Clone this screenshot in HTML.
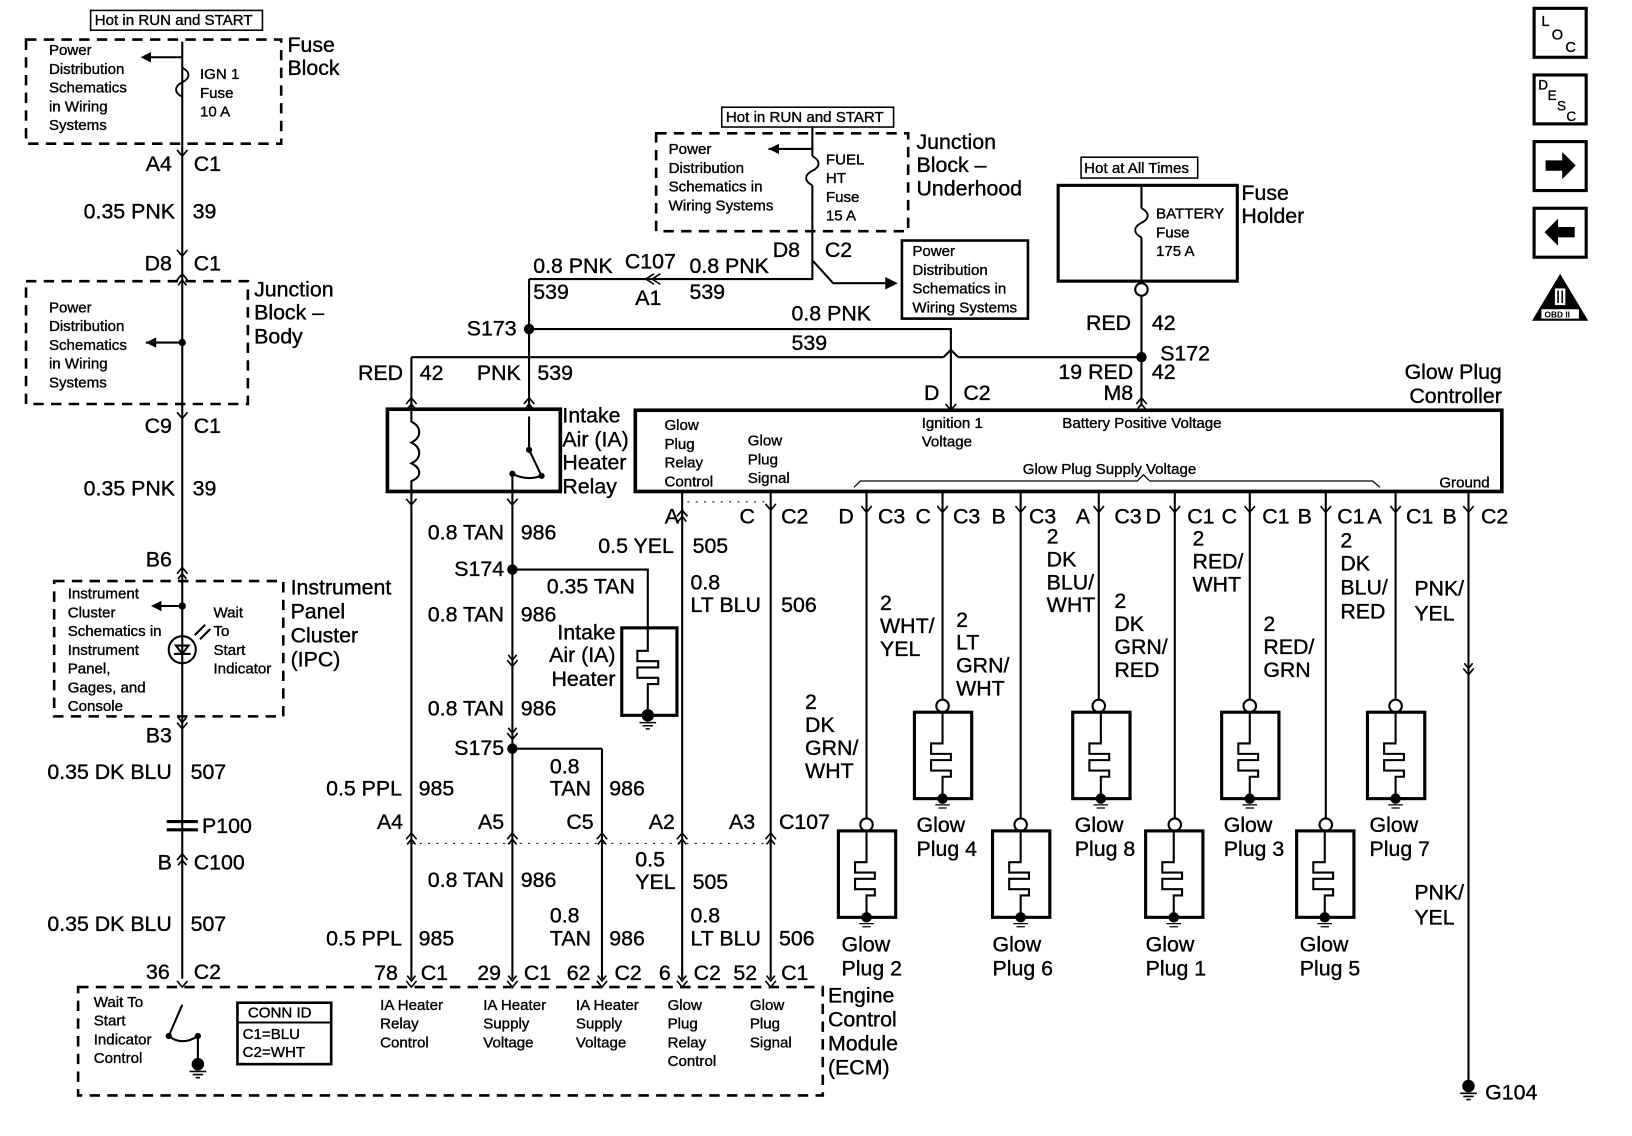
<!DOCTYPE html>
<html><head><meta charset="utf-8"><style>
html,body{margin:0;padding:0;background:#fff;width:1632px;height:1136px;overflow:hidden}
svg{display:block}
text{font-family:"Liberation Sans",sans-serif;fill:#000;stroke:#000;stroke-width:0.35}
.b{font-size:20.5px}
.s{font-size:14.5px}
.r{text-anchor:end}
</style></head><body>
<svg width="1632" height="1136" viewBox="0 0 1567 1091" preserveAspectRatio="none" xmlns="http://www.w3.org/2000/svg">
<defs>
<g id="kd"><path d="M-5,-6 L0,0 L5,-6" fill="none" stroke="#000" stroke-width="1.6"/></g>
<g id="ku"><path d="M-5,6 L0,0 L5,6" fill="none" stroke="#000" stroke-width="1.6"/><path d="M-4,11 L0,6 L4,11" fill="none" stroke="#000" stroke-width="1.6"/></g>
<g id="kv"><path d="M-4,-11 L0,-6 L4,-11" fill="none" stroke="#000" stroke-width="1.6"/><path d="M-5,-6 L0,0 L5,-6" fill="none" stroke="#000" stroke-width="1.6"/></g>
<g id="plug">
<rect x="0" y="0" width="55" height="83" fill="none" stroke="#000" stroke-width="3"/>
<path d="M27,0 V30 H16 V40 H35 V46 H16 V56 H35 V62 H27 V83" fill="none" stroke="#000" stroke-width="2"/>
<circle cx="27" cy="83" r="5"/>
<path d="M20,89 H34 M23,92 H31" stroke="#000" stroke-width="1.2"/>
</g>
<g id="gnd"><circle cx="0" cy="0" r="6"/><path d="M-8,7 H8 M-5,10 H5 M-2,13 H2" stroke="#000" stroke-width="1.5"/></g>
<g id="fuse"><path d="M0,0 C8,4 8,10 0,14 C-8,18 -8,24 0,28" fill="none" stroke="#000" stroke-width="1.8"/></g>
</defs>

<g stroke="#000" stroke-width="2" fill="none">
<path d="M175,40 V940"/>
<path d="M25,38 H270 V138 H25 Z" stroke-dasharray="10,7" stroke-width="2.5"/>
<path d="M25,270 H238 V388 H25 Z" stroke-dasharray="10,7" stroke-width="2.5"/>
<path d="M52,558 H272 V688 H52 Z" stroke-dasharray="10,7" stroke-width="2.5"/>
<path d="M75,948 H790 V1052 H75 Z" stroke-dasharray="10,7" stroke-width="2.5"/>
<rect x="87" y="10" width="165" height="19" stroke-width="1.5"/>
<path d="M175,55 H140 M175,329 H140 M175,582 H150"/>
<circle cx="175" cy="624" r="13"/>
<path d="M167,628 H183 M169,620 L175,628 L181,620 Z"/>
<path d="M187,610 L197,600 M192,614 L202,604"/>
<path d="M160,789 H190 M160,797 H190" stroke-width="3"/>
<path d="M175,965 L162,995 M162,995 Q175,1005 190,995 M190,995 V1022" />
<rect x="228" y="963" width="90" height="59" stroke-width="2.5"/>
<path d="M228,982 H318"/>

<path d="M395,343 V393 M508,268 V393"/>
<path d="M395,472 V940 M492,472 V940 M578,719 V940 M655,472 V940 M740,472 V940"/>
<path d="M492,547 H622 V603 M492,719 H578"/>
<path d="M508,268 H780 V215 M508,316 H913 V394"/>
<path d="M395,343 H906 M920,343 H1096"/>
<path d="M906,343 L913,336 L920,343"/>
<path d="M780,250 L800,272 H850"/>
<rect x="866" y="231" width="121" height="75" stroke-width="2.5"/>
<path d="M395,810 H740" stroke-dasharray="2,6" stroke-width="1"/>
<path d="M660,482 H735" stroke-dasharray="2,6" stroke-width="1"/>
<rect x="372" y="393" width="166" height="79" stroke-width="3.5"/>
<path d="M395,393 V405 C405,410 405,420 395,425 C405,430 405,440 395,445 C405,450 405,458 395,462 V472" />
<path d="M508,400 V432 L520,457 M492,472 V455 M492,455 Q505,462 520,457" />
<path d="M630,128 H872 V222 H630 Z" stroke-dasharray="10,7" stroke-width="2.5"/>
<rect x="693" y="103" width="165" height="19" stroke-width="1.5"/>
<path d="M780,122 V150 M780,143 H738 M780,178 V215"/>
<rect x="1038" y="151" width="112" height="20" stroke-width="1.5"/>
<rect x="1016" y="178" width="172" height="92" stroke-width="3"/>
<path d="M1096,178 V200 M1096,228 V272 M1096,284 V390"/>
<circle cx="1096" cy="278" r="6" fill="#fff"/>
<rect x="610" y="394" width="832" height="78" stroke-width="3.5"/>
<path d="M820,468 L826,462 H1092 L1098,456 L1104,462 H1318 L1325,468" stroke-width="1.2"/>
<rect x="597" y="603" width="53" height="84" stroke-width="3"/>
<path d="M622,603 V625 H612 V635 H632 V641 H612 V651 H632 V657 H622 V687"/>
<path d="M832,472 V786 M905,472 V672 M980,472 V786 M1055,472 V672 M1128,472 V786 M1200,472 V672 M1273,472 V786 M1340,472 V672 M1410,472 V1043"/>
<g fill="#fff">
<circle cx="832" cy="792" r="6"/><circle cx="905" cy="678" r="6"/><circle cx="980" cy="792" r="6"/><circle cx="1055" cy="678" r="6"/>
<circle cx="1128" cy="792" r="6"/><circle cx="1200" cy="678" r="6"/><circle cx="1273" cy="792" r="6"/><circle cx="1340" cy="678" r="6"/>
</g>
<rect x="1473" y="8" width="50" height="47" stroke-width="3"/>
<rect x="1473" y="72" width="50" height="47" stroke-width="3"/>
<rect x="1473" y="136" width="50" height="47" stroke-width="3"/>
<rect x="1473" y="200" width="50" height="47" stroke-width="3"/>
</g>
<use href="#fuse" x="175" y="65"/>
<use href="#fuse" x="780" y="150"/>
<use href="#fuse" x="1096" y="200"/>
<path d="M135,55 L145,50 V60 Z M738,143 L748,138 V148 Z M140,329 L150,324 V334 Z M145,582 L155,577 V587 Z M862,272 L850,266 V278 Z"/>
<circle cx="175" cy="329" r="3.5"/><circle cx="175" cy="582" r="3.5"/>
<circle cx="508" cy="316" r="5"/><circle cx="1096" cy="343" r="5"/><circle cx="492" cy="547" r="5"/><circle cx="492" cy="719" r="5"/>
<circle cx="508" cy="432" r="3"/><circle cx="520" cy="457" r="3"/><circle cx="492" cy="455" r="3"/>
<circle cx="162" cy="995" r="3"/><circle cx="190" cy="995" r="3"/>
<use href="#gnd" x="190" y="1022"/>
<use href="#gnd" x="622" y="687"/>
<use href="#gnd" x="1410" y="1043"/>
<use href="#plug" x="805" y="798"/><use href="#plug" x="878" y="684"/><use href="#plug" x="953" y="798"/><use href="#plug" x="1030" y="684"/>
<use href="#plug" x="1100" y="798"/><use href="#plug" x="1173" y="684"/><use href="#plug" x="1245" y="798"/><use href="#plug" x="1313" y="684"/>
<use href="#kd" x="175" y="150"/><use href="#kd" x="175" y="246"/><use href="#ku" x="175" y="263"/><use href="#kd" x="175" y="402"/>
<use href="#ku" x="175" y="545"/><use href="#kv" x="175" y="700"/><use href="#ku" x="175" y="820"/><use href="#kd" x="175" y="948"/>
<use href="#ku" x="395" y="382"/><use href="#ku" x="508" y="382"/><use href="#kd" x="395" y="485"/><use href="#kd" x="492" y="485"/>
<use href="#kd" x="913" y="394"/><use href="#ku" x="1096" y="382"/>
<use href="#ku" x="395" y="800"/><use href="#ku" x="492" y="800"/><use href="#ku" x="578" y="800"/><use href="#ku" x="655" y="800"/><use href="#ku" x="740" y="800"/>
<use href="#ku" x="655" y="490"/><use href="#kd" x="740" y="490"/>
<use href="#kv" x="395" y="948"/><use href="#kv" x="492" y="948"/><use href="#kv" x="578" y="948"/><use href="#kv" x="655" y="948"/><use href="#kv" x="740" y="948"/>
<use href="#kv" x="492" y="640"/><use href="#kv" x="492" y="710"/><use href="#kv" x="1410" y="648"/>
<g><use href="#kd" x="832" y="492"/><use href="#kd" x="905" y="492"/><use href="#kd" x="980" y="492"/><use href="#kd" x="1055" y="492"/><use href="#kd" x="1128" y="492"/><use href="#kd" x="1200" y="492"/><use href="#kd" x="1273" y="492"/><use href="#kd" x="1340" y="492"/><use href="#kd" x="1410" y="492"/></g>
<path d="M628,263 L620,268 L628,273 M634,263 L626,268 L634,273" fill="none" stroke="#000" stroke-width="1.5"/>

<text x="91" y="24" class="s">Hot in RUN and START</text>
<text class="s"><tspan x="47" y="53">Power</tspan><tspan x="47" y="71">Distribution</tspan><tspan x="47" y="89">Schematics</tspan><tspan x="47" y="107">in Wiring</tspan><tspan x="47" y="125">Systems</tspan></text>
<text class="s"><tspan x="192" y="76">IGN 1</tspan><tspan x="192" y="94">Fuse</tspan><tspan x="192" y="112">10 A</tspan></text>
<text class="b"><tspan x="276" y="50">Fuse</tspan><tspan x="276" y="72">Block</tspan></text>
<text class="b r" x="165" y="164">A4</text><text class="b" x="186" y="164">C1</text>
<text class="b r" x="168" y="210">0.35 PNK</text><text class="b" x="185" y="210">39</text>
<text class="b r" x="165" y="260">D8</text><text class="b" x="186" y="260">C1</text>
<text class="s"><tspan x="47" y="300">Power</tspan><tspan x="47" y="318">Distribution</tspan><tspan x="47" y="336">Schematics</tspan><tspan x="47" y="354">in Wiring</tspan><tspan x="47" y="372">Systems</tspan></text>
<text class="b"><tspan x="244" y="285">Junction</tspan><tspan x="244" y="307">Block –</tspan><tspan x="244" y="330">Body</tspan></text>
<text class="b r" x="165" y="416">C9</text><text class="b" x="186" y="416">C1</text>
<text class="b r" x="168" y="476">0.35 PNK</text><text class="b" x="185" y="476">39</text>
<text class="b r" x="165" y="544">B6</text>
<text class="s"><tspan x="65" y="575">Instrument</tspan><tspan x="65" y="593">Cluster</tspan><tspan x="65" y="611">Schematics in</tspan><tspan x="65" y="629">Instrument</tspan><tspan x="65" y="647">Panel,</tspan><tspan x="65" y="665">Gages, and</tspan><tspan x="65" y="683">Console</tspan></text>
<text class="s"><tspan x="205" y="593">Wait</tspan><tspan x="205" y="611">To</tspan><tspan x="205" y="629">Start</tspan><tspan x="205" y="647">Indicator</tspan></text>
<text class="b"><tspan x="279" y="571">Instrument</tspan><tspan x="279" y="594">Panel</tspan><tspan x="279" y="617">Cluster</tspan><tspan x="279" y="640">(IPC)</tspan></text>
<text class="b r" x="165" y="713">B3</text>
<text class="b r" x="165" y="748">0.35 DK BLU</text><text class="b" x="183" y="748">507</text>
<text class="b" x="194" y="800">P100</text>
<text class="b r" x="165" y="835">B</text><text class="b" x="186" y="835">C100</text>
<text class="b r" x="165" y="894">0.35 DK BLU</text><text class="b" x="183" y="894">507</text>
<text class="b r" x="163" y="940">36</text><text class="b" x="186" y="940">C2</text>
<text class="s"><tspan x="90" y="967">Wait To</tspan><tspan x="90" y="985">Start</tspan><tspan x="90" y="1003">Indicator</tspan><tspan x="90" y="1021">Control</tspan></text>
<text class="s" x="238" y="977">CONN ID</text>
<text class="s"><tspan x="233" y="998">C1=BLU</tspan><tspan x="233" y="1015">C2=WHT</tspan></text>
<text class="b"><tspan x="795" y="963">Engine</tspan><tspan x="795" y="986">Control</tspan><tspan x="795" y="1009">Module</tspan><tspan x="795" y="1032">(ECM)</tspan></text>
<text class="b r" x="382" y="941">78</text><text class="b" x="404" y="941">C1</text>
<text class="b r" x="481" y="941">29</text><text class="b" x="503" y="941">C1</text>
<text class="b r" x="567" y="941">62</text><text class="b" x="590" y="941">C2</text>
<text class="b r" x="644" y="941">6</text><text class="b" x="666" y="941">C2</text>
<text class="b r" x="727" y="941">52</text><text class="b" x="750" y="941">C1</text>
<text class="s"><tspan x="365" y="970">IA Heater</tspan><tspan x="365" y="988">Relay</tspan><tspan x="365" y="1006">Control</tspan></text>
<text class="s"><tspan x="464" y="970">IA Heater</tspan><tspan x="464" y="988">Supply</tspan><tspan x="464" y="1006">Voltage</tspan></text>
<text class="s"><tspan x="553" y="970">IA Heater</tspan><tspan x="553" y="988">Supply</tspan><tspan x="553" y="1006">Voltage</tspan></text>
<text class="s"><tspan x="641" y="970">Glow</tspan><tspan x="641" y="988">Plug</tspan><tspan x="641" y="1006">Relay</tspan><tspan x="641" y="1024">Control</tspan></text>
<text class="s"><tspan x="720" y="970">Glow</tspan><tspan x="720" y="988">Plug</tspan><tspan x="720" y="1006">Signal</tspan></text>

<text class="b" x="512" y="262">0.8 PNK</text><text class="b" x="512" y="287">539</text>
<text class="b" x="600" y="258">C107</text><text class="b" x="610" y="293">A1</text>
<text class="b" x="662" y="262">0.8 PNK</text><text class="b" x="662" y="287">539</text>
<text class="b" x="742" y="247">D8</text><text class="b" x="792" y="247">C2</text>
<text class="b r" x="496" y="322">S173</text>
<text class="b" x="760" y="308">0.8 PNK</text><text class="b" x="760" y="336">539</text>
<text class="b r" x="387" y="365">RED</text><text class="b" x="403" y="365">42</text>
<text class="b r" x="500" y="365">PNK</text><text class="b" x="516" y="365">539</text>
<text class="b"><tspan x="540" y="406">Intake</tspan><tspan x="540" y="429">Air (IA)</tspan><tspan x="540" y="451">Heater</tspan><tspan x="540" y="474">Relay</tspan></text>
<text class="s" x="697" y="117">Hot in RUN and START</text>
<text class="s"><tspan x="642" y="148">Power</tspan><tspan x="642" y="166">Distribution</tspan><tspan x="642" y="184">Schematics in</tspan><tspan x="642" y="202">Wiring Systems</tspan></text>
<text class="s"><tspan x="793" y="158">FUEL</tspan><tspan x="793" y="176">HT</tspan><tspan x="793" y="194">Fuse</tspan><tspan x="793" y="212">15 A</tspan></text>
<text class="b"><tspan x="880" y="143">Junction</tspan><tspan x="880" y="165">Block –</tspan><tspan x="880" y="188">Underhood</tspan></text>
<text class="s"><tspan x="876" y="246">Power</tspan><tspan x="876" y="264">Distribution</tspan><tspan x="876" y="282">Schematics in</tspan><tspan x="876" y="300">Wiring Systems</tspan></text>
<text class="s" x="1041" y="166">Hot at All Times</text>
<text class="s"><tspan x="1110" y="210">BATTERY</tspan><tspan x="1110" y="228">Fuse</tspan><tspan x="1110" y="246">175 A</tspan></text>
<text class="b"><tspan x="1192" y="192">Fuse</tspan><tspan x="1192" y="214">Holder</tspan></text>
<text class="b r" x="1086" y="317">RED</text><text class="b" x="1106" y="317">42</text>
<text class="b" x="1114" y="346">S172</text>
<text class="b r" x="1088" y="364">19 RED</text><text class="b" x="1106" y="364">42</text>
<text class="b r" x="1088" y="384">M8</text>
<text class="b r" x="902" y="384">D</text><text class="b" x="925" y="384">C2</text>
<text class="b r"><tspan x="1442" y="364">Glow Plug</tspan><tspan x="1442" y="387">Controller</tspan></text>
<text class="s"><tspan x="638" y="413">Glow</tspan><tspan x="638" y="431">Plug</tspan><tspan x="638" y="449">Relay</tspan><tspan x="638" y="467">Control</tspan></text>
<text class="s"><tspan x="718" y="428">Glow</tspan><tspan x="718" y="446">Plug</tspan><tspan x="718" y="464">Signal</tspan></text>
<text class="s"><tspan x="885" y="411">Ignition 1</tspan><tspan x="885" y="429">Voltage</tspan></text>
<text class="s" x="1020" y="411">Battery Positive Voltage</text>
<text class="s" x="982" y="455">Glow Plug Supply Voltage</text>
<text class="s" x="1382" y="468">Ground</text>
<text class="b r" x="652" y="503">A</text><text class="b" x="710" y="503">C</text><text class="b" x="750" y="503">C2</text>
<text class="b r" x="484" y="518">0.8 TAN</text><text class="b" x="500" y="518">986</text>
<text class="b r" x="647" y="531">0.5 YEL</text><text class="b" x="665" y="531">505</text>
<text class="b r" x="484" y="553">S174</text>
<text class="b" x="525" y="570">0.35 TAN</text>
<text class="b"><tspan x="663" y="566">0.8</tspan><tspan x="663" y="588">LT BLU</tspan></text><text class="b" x="750" y="588">506</text>
<text class="b r" x="484" y="597">0.8 TAN</text><text class="b" x="500" y="597">986</text>
<text class="b r"><tspan x="591" y="614">Intake</tspan><tspan x="591" y="636">Air (IA)</tspan><tspan x="591" y="659">Heater</tspan></text>
<text class="b r" x="484" y="687">0.8 TAN</text><text class="b" x="500" y="687">986</text>
<text class="b r" x="484" y="725">S175</text>
<text class="b"><tspan x="528" y="743">0.8</tspan><tspan x="528" y="764">TAN</tspan></text><text class="b" x="585" y="764">986</text>
<text class="b r" x="386" y="764">0.5 PPL</text><text class="b" x="402" y="764">985</text>
<text class="b r" x="387" y="796">A4</text><text class="b r" x="484" y="796">A5</text><text class="b r" x="570" y="796">C5</text><text class="b r" x="648" y="796">A2</text><text class="b r" x="725" y="796">A3</text><text class="b" x="748" y="796">C107</text>
<text class="b r" x="484" y="852">0.8 TAN</text><text class="b" x="500" y="852">986</text>
<text class="b"><tspan x="610" y="832">0.5</tspan><tspan x="610" y="854">YEL</tspan></text><text class="b" x="665" y="854">505</text>
<text class="b"><tspan x="528" y="886">0.8</tspan><tspan x="528" y="908">TAN</tspan></text><text class="b" x="585" y="908">986</text>
<text class="b r" x="386" y="908">0.5 PPL</text><text class="b" x="402" y="908">985</text>
<text class="b"><tspan x="663" y="886">0.8</tspan><tspan x="663" y="908">LT BLU</tspan></text><text class="b" x="748" y="908">506</text>
<text class="b" y="503"><tspan x="805">D</tspan><tspan x="843">C3</tspan><tspan x="879">C</tspan><tspan x="915">C3</tspan><tspan x="952">B</tspan><tspan x="988">C3</tspan><tspan x="1033">A</tspan><tspan x="1070">C3</tspan><tspan x="1100">D</tspan><tspan x="1140">C1</tspan><tspan x="1173">C</tspan><tspan x="1212">C1</tspan><tspan x="1246">B</tspan><tspan x="1284">C1</tspan><tspan x="1313">A</tspan><tspan x="1350">C1</tspan><tspan x="1385">B</tspan><tspan x="1422">C2</tspan></text>
<text class="b"><tspan x="773" y="681">2</tspan><tspan x="773" y="703">DK</tspan><tspan x="773" y="725">GRN/</tspan><tspan x="773" y="747">WHT</tspan></text>
<text class="b"><tspan x="845" y="586">2</tspan><tspan x="845" y="608">WHT/</tspan><tspan x="845" y="630">YEL</tspan></text>
<text class="b"><tspan x="918" y="602">2</tspan><tspan x="918" y="624">LT</tspan><tspan x="918" y="646">GRN/</tspan><tspan x="918" y="668">WHT</tspan></text>
<text class="b"><tspan x="1005" y="522">2</tspan><tspan x="1005" y="544">DK</tspan><tspan x="1005" y="566">BLU/</tspan><tspan x="1005" y="588">WHT</tspan></text>
<text class="b"><tspan x="1070" y="584">2</tspan><tspan x="1070" y="606">DK</tspan><tspan x="1070" y="628">GRN/</tspan><tspan x="1070" y="650">RED</tspan></text>
<text class="b"><tspan x="1145" y="524">2</tspan><tspan x="1145" y="546">RED/</tspan><tspan x="1145" y="568">WHT</tspan></text>
<text class="b"><tspan x="1213" y="606">2</tspan><tspan x="1213" y="628">RED/</tspan><tspan x="1213" y="650">GRN</tspan></text>
<text class="b"><tspan x="1287" y="526">2</tspan><tspan x="1287" y="548">DK</tspan><tspan x="1287" y="571">BLU/</tspan><tspan x="1287" y="594">RED</tspan></text>
<text class="b"><tspan x="1358" y="572">PNK/</tspan><tspan x="1358" y="596">YEL</tspan></text>
<text class="b"><tspan x="1358" y="864">PNK/</tspan><tspan x="1358" y="888">YEL</tspan></text>
<text class="b"><tspan x="808" y="914">Glow</tspan><tspan x="808" y="937">Plug 2</tspan></text>
<text class="b"><tspan x="880" y="799">Glow</tspan><tspan x="880" y="822">Plug 4</tspan></text>
<text class="b"><tspan x="953" y="914">Glow</tspan><tspan x="953" y="937">Plug 6</tspan></text>
<text class="b"><tspan x="1032" y="799">Glow</tspan><tspan x="1032" y="822">Plug 8</tspan></text>
<text class="b"><tspan x="1100" y="914">Glow</tspan><tspan x="1100" y="937">Plug 1</tspan></text>
<text class="b"><tspan x="1175" y="799">Glow</tspan><tspan x="1175" y="822">Plug 3</tspan></text>
<text class="b"><tspan x="1248" y="914">Glow</tspan><tspan x="1248" y="937">Plug 5</tspan></text>
<text class="b"><tspan x="1315" y="799">Glow</tspan><tspan x="1315" y="822">Plug 7</tspan></text>
<text class="b" x="1426" y="1056">G104</text>
<text x="1480" y="25" style="font-size:14px">L</text><text x="1490" y="38" style="font-size:14px">O</text><text x="1503" y="50" style="font-size:14px">C</text>
<text x="1477" y="86" style="font-size:13px">D</text><text x="1486" y="96" style="font-size:13px">E</text><text x="1495" y="106" style="font-size:13px">S</text><text x="1504" y="116" style="font-size:13px">C</text>
<path d="M1484,154 H1500 V146 L1513,159 L1500,172 V164 H1484 Z"/>
<path d="M1512,218 H1496 V210 L1483,223 L1496,236 V228 H1512 Z"/>
<path d="M1498,263 L1525,308 H1471 Z"/>
<rect x="1480" y="297" width="36" height="9" fill="#fff"/>
<text x="1483" y="305" style="font-size:8px;font-weight:bold;stroke-width:0">OBD II</text>
<rect x="1493" y="277" width="10" height="16" fill="#fff"/>
<path d="M1496,279 V291 M1500,279 V291" stroke="#000" stroke-width="1.5"/>
</svg>
</body></html>
